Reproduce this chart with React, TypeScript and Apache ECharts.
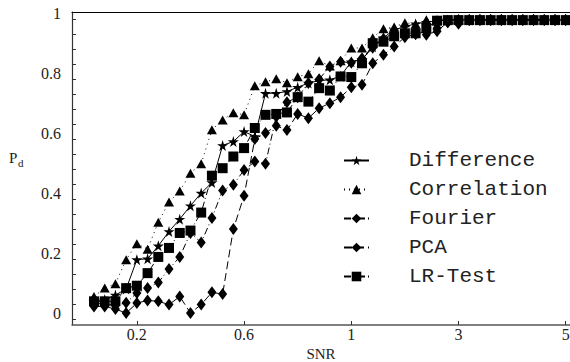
import React, { useEffect, useRef } from 'react';
import * as echarts from 'echarts';

// SNR sample points (evenly spaced on the plot's x axis)
const snr = [
  0.04, 0.08, 0.12, 0.16, 0.2, 0.24, 0.28, 0.32, 0.36, 0.4,
  0.44, 0.48, 0.52, 0.56, 0.6, 0.64, 0.68, 0.72, 0.76, 0.8,
  0.84, 0.88, 0.92, 0.96, 1.0,
  1.2, 1.4, 1.6, 1.8, 2.0, 2.2, 2.4, 2.6, 2.8, 3.0,
  3.2, 3.4, 3.6, 3.8, 4.0, 4.2, 4.4, 4.6, 4.8, 5.0,
];

const xTickLabels = ['0.2', '0.6', '1', '3', '5'];
const yTickLabels = [0, 0.2, 0.4, 0.6, 0.8, 1];
const yMinorTicks = [0, 0.05, 0.1, 0.15, 0.2, 0.25, 0.3, 0.35, 0.4, 0.45, 0.5, 0.55, 0.6, 0.65, 0.7, 0.75, 0.8, 0.85, 0.9, 0.95, 1];

const seriesNames = ['Difference', 'Correlation', 'Fourier', 'PCA', 'LR-Test'];

const difference = [
  0.06, 0.065, 0.08, 0.10, 0.198, 0.201, 0.244, 0.292, 0.333, 0.378,
  0.42, 0.455, 0.579, 0.592, 0.625, 0.609, 0.753, 0.753, 0.759, 0.773,
  0.787, 0.795, 0.798, 0.81, 0.858, 0.865, 0.908, 0.938, 0.965, 0.975,
  0.985, 0.99, 0.995, 0.997, 0.997, 0.997, 0.997, 0.997, 0.997, 0.997,
  0.997, 0.997, 0.997, 0.997, 0.997,
];

const correlation = [
  0.075, 0.103, 0.118, 0.198, 0.251, 0.233, 0.323, 0.39, 0.427, 0.486,
  0.518, 0.631, 0.664, 0.688, 0.681, 0.778, 0.791, 0.801, 0.788, 0.808,
  0.818, 0.861, 0.844, 0.861, 0.904, 0.904, 0.938, 0.968, 0.974, 0.988,
  0.984, 0.998, 0.998, 0.998, 0.998, 0.998, 0.998, 0.998, 0.998, 0.998,
  0.998, 0.998, 0.998, 0.998, 0.998,
];

const fourier = [
  0.055, 0.05, 0.045, 0.054, 0.087, 0.103, 0.122, 0.167, 0.207, 0.287,
  0.255, 0.337, 0.429, 0.448, 0.497, 0.525, 0.518, 0.675, 0.723, 0.74,
  0.787, 0.80, 0.842, 0.858, 0.855, 0.87, 0.905, 0.935, 0.955, 0.955,
  0.96, 0.948, 0.96, 0.99, 0.985, 0.997, 0.997, 0.997, 0.997, 0.997,
  0.997, 0.997, 0.997, 0.997, 0.997,
];

const pca = [
  0.042, 0.042, 0.033, 0.02, 0.053, 0.062, 0.059, 0.048, 0.075, 0.02,
  0.048, 0.089, 0.083, 0.30, 0.411, 0.60, 0.62, 0.645, 0.63, 0.684,
  0.67, 0.703, 0.72, 0.74, 0.773, 0.781, 0.853, 0.881, 0.909, 0.94,
  0.95, 0.96, 0.97, 0.99, 0.997, 0.997, 0.997, 0.997, 0.997, 0.997,
  0.997, 0.997, 0.997, 0.997, 0.997,
];

const lrTest = [
  0.059, 0.059, 0.059, 0.103, 0.111, 0.153, 0.207, 0.237, 0.287, 0.295,
  0.355, 0.478, 0.503, 0.542, 0.57, 0.637, 0.681, 0.684, 0.689, 0.74,
  0.725, 0.77, 0.762, 0.809, 0.807, 0.853, 0.92, 0.925, 0.943, 0.953,
  0.953, 0.97, 0.995, 0.997, 0.997, 0.997, 0.997, 0.997, 0.997, 0.997,
  0.997, 0.997, 0.997, 0.997, 0.997,
];

const STAR = 'path://M50,0 L61,35 L98,35 L68,57 L79,91 L50,70 L21,91 L32,57 L2,35 L39,35 Z';
const SERIF = "'Liberation Serif', 'Times New Roman', serif";
const MONO = "'Liberation Mono', monospace";

export default function App() {
  const ref = useRef<HTMLDivElement>(null);

  useEffect(() => {
    if (!ref.current) return;
    const chart = echarts.init(ref.current, undefined, { renderer: 'svg' });

    const xTickPos = xTickLabels.map((l) => snr.indexOf(parseFloat(l)));
    const toData = (arr: number[]) => arr.map((v, i) => [i, v]);

    const seriesDefs = [
      { name: seriesNames[0], data: difference, symbol: STAR, size: [11, 11], dash: 'solid' as any },
      { name: seriesNames[1], data: correlation, symbol: 'triangle', size: [10, 9], dash: [1, 4] },
      { name: seriesNames[2], data: fourier, symbol: 'diamond', size: [9, 12], dash: [7, 3, 1, 3] },
      { name: seriesNames[3], data: pca, symbol: 'diamond', size: [9, 12], dash: [8, 4] },
      { name: seriesNames[4], data: lrTest, symbol: 'rect', size: [10, 10], dash: [7, 3, 1, 3] },
    ];

    const xMin = -2.05;
    const xMax = 44.4;
    const yMin = -0.02;
    const yMax = 1.024;
    const labelShift = 0.02; // tick labels sit slightly above their ticks in the reference

    chart.setOption({
      animation: false,
      backgroundColor: '#ffffff',
      grid: { left: 72, right: 0, top: 12, bottom: 37, containLabel: false, outerBoundsMode: 'none' },
      xAxis: [
        {
          type: 'value',
          min: xMin,
          max: xMax,
          axisLine: { show: true, onZero: false, lineStyle: { color: '#555', width: 1.5 } },
          axisTick: { show: true, inside: true, length: 4, customValues: xTickPos, lineStyle: { color: '#333' } },
          axisLabel: {
            customValues: xTickPos,
            formatter: (v: number) => {
              const k = xTickPos.indexOf(Math.round(v));
              return k >= 0 ? xTickLabels[k] : '';
            },
            fontFamily: SERIF,
            fontSize: 16,
            color: '#222',
            margin: 1,
          },
          splitLine: { show: false },
          name: 'SNR',
          nameLocation: 'middle',
          nameGap: 19,
          nameTextStyle: { fontFamily: SERIF, fontSize: 15, color: '#222', lineHeight: 15 },
        },
        {
          type: 'value',
          position: 'top',
          min: xMin,
          max: xMax,
          axisLine: { show: true, onZero: false, lineStyle: { color: '#000', width: 1 } },
          axisTick: { show: false },
          axisLabel: { show: false },
          splitLine: { show: false },
        },
      ],
      yAxis: [
        {
          type: 'value',
          min: yMin,
          max: yMax,
          axisLine: { show: true, onZero: false, lineStyle: { color: '#333', width: 1.2 } },
          axisTick: { show: true, inside: true, length: 4, customValues: yMinorTicks, lineStyle: { color: '#333' } },
          axisLabel: { show: false },
          splitLine: { show: false },
        },
        {
          type: 'value',
          position: 'left',
          min: yMin - labelShift,
          max: yMax - labelShift,
          axisLine: { show: false, onZero: false },
          axisTick: { show: false },
          axisLabel: {
            customValues: yTickLabels,
            formatter: (v: number) => String(Math.round(v * 10) / 10),
            fontFamily: SERIF,
            fontSize: 16,
            color: '#222',
            margin: 11,
          },
          splitLine: { show: false },
        },
      ],
      legend: {
        orient: 'vertical',
        left: 343,
        top: 150,
        padding: 0,
        itemWidth: 25,
        itemHeight: 12,
        itemGap: 8,
        data: seriesNames,
        textStyle: { fontFamily: MONO, fontSize: 21, color: '#222', lineHeight: 20, padding: [0, 0, 0, 35] },
      },
      graphic: [
        { type: 'text', left: 9, top: 150, style: { text: 'P', fontFamily: SERIF, fontSize: 15, fill: '#222' } },
        { type: 'text', left: 18, top: 157, style: { text: 'd', fontFamily: SERIF, fontSize: 11, fill: '#222' } },
      ],
      series: seriesDefs.map((s) => ({
        name: s.name,
        type: 'line',
        xAxisIndex: 0,
        yAxisIndex: 0,
        data: toData(s.data),
        symbol: s.symbol,
        symbolSize: s.size,
        showAllSymbol: true,
        itemStyle: { color: '#000' },
        lineStyle: { color: '#000', width: 1, type: s.dash },
      })),
    });

    return () => chart.dispose();
  }, []);

  return <div ref={ref} style={{ width: 570, height: 362, position: 'absolute', left: 0, top: 0 }} />;
}
